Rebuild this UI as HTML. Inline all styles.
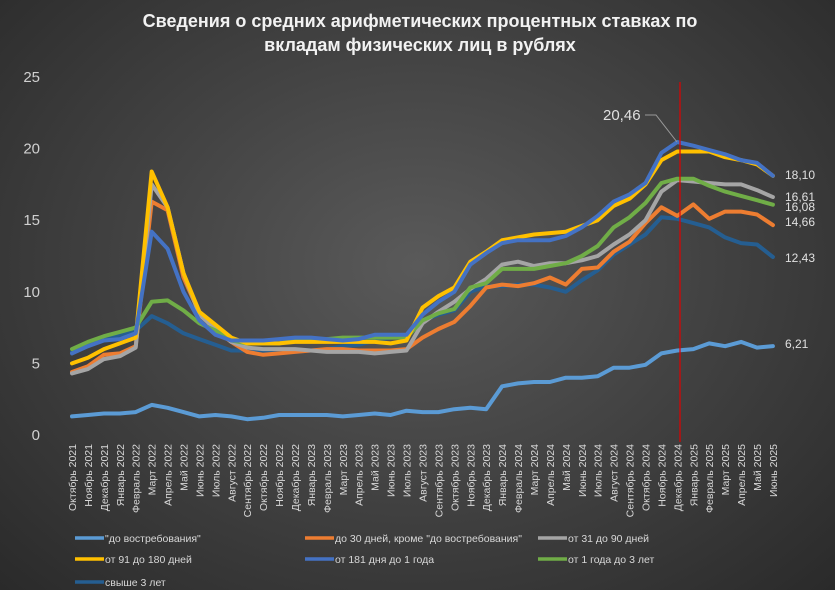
<!DOCTYPE html>
<html><head><meta charset="utf-8"><style>
html,body{margin:0;padding:0;}
body{width:835px;height:590px;overflow:hidden;background:radial-gradient(ellipse at 50% 45%,#5a5a5a 0%,#444 45%,#2a2a2a 100%);font-family:"Liberation Sans",sans-serif;}
</style></head><body>
<svg id="s" width="835" height="590" xmlns="http://www.w3.org/2000/svg" style="position:absolute;left:0;top:0">
<text x="420" y="27" text-anchor="middle" fill="#f2f2f2" font-size="18" font-weight="bold" font-family="Liberation Sans, sans-serif">Сведения о средних арифметических процентных ставках по</text>
<text x="420" y="51" text-anchor="middle" fill="#f2f2f2" font-size="18" font-weight="bold" font-family="Liberation Sans, sans-serif">вкладам физических лиц в рублях</text>
</svg>
<script>
const s=document.getElementById('s');const NS='http://www.w3.org/2000/svg';
function el(t,a,txt){const e=document.createElementNS(NS,t);for(const k in a)e.setAttribute(k,a[k]);if(txt!=null)e.textContent=txt;s.appendChild(e);return e;}
const X=i=>72+i*15.93, Y=v=>435-v*14.32;
for(let v=0;v<=25;v+=5) el('text',{x:40,y:Y(v)+5,'text-anchor':'end',fill:'#d0d0d0','font-size':15,'font-family':'Liberation Sans, sans-serif'},String(v));
const m=['Октябрь','Ноябрь','Декабрь','Январь','Февраль','Март','Апрель','Май','Июнь','Июль','Август','Сентябрь'];
for(let i=0;i<45;i++){const mi=i%12;const yr=2021+Math.floor((9+i)/12);
el('text',{x:0,y:0,transform:`translate(${X(i)+4},444) rotate(-90)`,'text-anchor':'end',fill:'#d8d8d8','font-size':10.5,'font-family':'Liberation Sans, sans-serif','xml:space':'preserve'},m[mi]+'  '+yr);}
const D={
c0:['#5b9bd5',[1.3,1.4,1.5,1.5,1.6,2.1,1.9,1.6,1.3,1.4,1.3,1.1,1.2,1.4,1.4,1.4,1.4,1.3,1.4,1.5,1.4,1.7,1.6,1.6,1.8,1.9,1.8,3.4,3.6,3.7,3.7,4.0,4.0,4.1,4.7,4.7,4.9,5.7,5.9,6.0,6.4,6.2,6.5,6.1,6.21]],
c6:['#255e91',[5.8,6.2,6.7,7.0,7.3,8.3,7.8,7.1,6.7,6.3,5.9,5.9,5.9,5.8,5.8,5.9,6.0,6.2,6.3,6.6,6.8,6.9,8.0,8.4,8.7,10.0,10.4,10.4,10.5,10.5,10.3,10.0,10.8,11.5,12.6,13.3,14.0,15.2,15.1,14.8,14.5,13.8,13.4,13.3,12.43]],
c1:['#ed7d31',[4.4,4.8,5.6,5.7,6.2,16.3,15.7,11,8.5,7.3,6.5,5.8,5.6,5.7,5.8,5.9,6.0,6.0,5.9,5.9,5.9,6.0,6.8,7.4,7.9,9.0,10.3,10.5,10.4,10.6,11.0,10.5,11.6,11.7,12.8,13.5,14.8,15.9,15.3,16.1,15.1,15.6,15.6,15.4,14.66]],
c2:['#a5a5a5',[4.3,4.6,5.3,5.5,6.1,17.5,15.9,11.3,8.4,7.4,6.5,6.1,6.0,6.0,6.0,5.9,5.8,5.8,5.8,5.7,5.8,5.9,7.8,8.6,9.3,10.2,10.9,11.9,12.1,11.8,12.0,12.0,12.2,12.5,13.3,14.0,15.0,17.0,17.8,17.7,17.6,17.5,17.5,17.1,16.61]],
c5:['#70ad47',[6.0,6.5,6.9,7.2,7.5,9.3,9.4,8.7,7.8,7.3,6.6,6.4,6.4,6.4,6.6,6.6,6.7,6.8,6.8,6.8,6.8,6.8,8.0,8.5,8.8,10.3,10.6,11.6,11.6,11.6,11.8,12.0,12.5,13.2,14.5,15.2,16.2,17.6,17.9,17.9,17.4,17.0,16.7,16.4,16.08]],
c3:['#ffc000',[5.0,5.4,6.0,6.4,6.8,18.4,15.9,11.3,8.6,7.7,6.8,6.4,6.4,6.4,6.5,6.5,6.5,6.5,6.5,6.5,6.4,6.6,8.9,9.7,10.3,12.1,12.8,13.6,13.8,14.0,14.1,14.2,14.6,15.0,16.0,16.5,17.5,19.2,19.8,19.8,19.8,19.4,19.2,18.9,18.10]],
c4:['#4472c4',[5.7,6.2,6.6,6.7,7.1,14.2,13.0,10.0,8.0,7.0,6.6,6.6,6.6,6.7,6.8,6.8,6.7,6.6,6.7,7.0,7.0,7.0,8.4,9.3,10.0,11.9,12.7,13.4,13.6,13.6,13.6,13.9,14.5,15.3,16.3,16.8,17.6,19.7,20.46,20.2,19.9,19.6,19.2,19.0,18.10]]};
for(const k in D){const [c,d]=D[k];el('polyline',{points:d.map((v,i)=>X(i).toFixed(1)+','+Y(v).toFixed(1)).join(' '),fill:'none',stroke:c,'stroke-width':4,'stroke-linejoin':'round','stroke-linecap':'round'});}
el('line',{x1:680,y1:82,x2:680,y2:442,stroke:'#e00000','stroke-width':1.2});
el('polyline',{points:'645,115 656,115 677,142',fill:'none',stroke:'#999','stroke-width':1});
const lab=(t,x,y,fs)=>el('text',{x,y,fill:'#e0e0e0','font-size':fs||12,'font-family':'Liberation Sans, sans-serif'},t);
lab('20,46',603,120,15);
lab('18,10',785,179);lab('16,61',785,201);lab('16,08',785,211);lab('14,66',785,226);lab('12,43',785,262);lab('6,21',785,348);
const L=[['"до востребования"','#5b9bd5',75,538],['до 30 дней, кроме "до востребования"','#ed7d31',305,538],['от 31 до 90 дней','#a5a5a5',538,538],
['от 91 до 180 дней','#ffc000',75,559],['от 181 дня до 1 года','#4472c4',305,559],['от 1 года до 3 лет','#70ad47',538,559],['свыше 3 лет','#255e91',75,582]];
for(const [t,c,x,y] of L){el('line',{x1:x,y1:y,x2:x+29,y2:y,stroke:c,'stroke-width':3.5});el('text',{x:x+30,y:y+4,fill:'#d8d8d8','font-size':10.5,'font-family':'Liberation Sans, sans-serif'},t);}
</script>
</body></html>
